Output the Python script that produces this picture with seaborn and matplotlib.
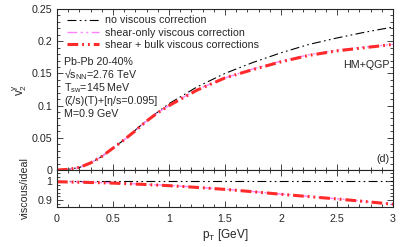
import matplotlib
matplotlib.use("Agg")
import matplotlib.pyplot as plt
from matplotlib.ticker import MultipleLocator
import numpy as np
import pandas as pd
import seaborn as sns

# values
pt = [0.0, 0.1, 0.2, 0.3, 0.4, 0.5, 0.6, 0.7, 0.8, 0.9, 1.0, 1.25, 1.5, 1.75, 2.0, 2.25, 2.5, 2.75, 3.0]
v2_ideal = [0.0, 0.001, 0.004, 0.011, 0.021, 0.034, 0.047, 0.062, 0.077, 0.090, 0.103,
            0.129, 0.150, 0.167, 0.182, 0.195, 0.205, 0.214, 0.222]
v2_shear = [0.0, 0.001, 0.004, 0.011, 0.021, 0.034, 0.047, 0.061, 0.076, 0.089, 0.100,
            0.125, 0.143, 0.157, 0.169, 0.179, 0.186, 0.191, 0.195]
v2_bulk = [0.0, 0.001, 0.004, 0.011, 0.021, 0.034, 0.047, 0.061, 0.076, 0.089, 0.100,
           0.124, 0.143, 0.156, 0.168, 0.178, 0.185, 0.190, 0.195]

pt_ratio = [0.0, 0.25, 0.5, 0.75, 1.0, 1.25, 1.5, 1.75, 2.0, 2.25, 2.5, 2.75, 3.0]
ratio_ideal = [1.0, 1.0, 1.0, 1.0, 1.0, 1.0, 1.0, 1.0, 1.0, 1.0, 1.0, 1.0, 1.0]
ratio_shear = [0.996, 0.993, 0.989, 0.983, 0.976, 0.967, 0.957, 0.945, 0.932, 0.920, 0.908, 0.895, 0.881]
ratio_bulk = [0.995, 0.992, 0.988, 0.982, 0.975, 0.966, 0.956, 0.944, 0.931, 0.919, 0.907, 0.894, 0.880]

labels = ["no viscous correction", "shear-only viscous correction", "shear + bulk viscous corrections"]

fs = 7.7
sns.set_style("ticks")
plt.rcParams["font.family"] = ["Liberation Sans", "DejaVu Sans"]
plt.rcParams["font.size"] = fs
plt.rcParams["mathtext.fontset"] = "custom"
plt.rcParams["mathtext.rm"] = "Liberation Sans"
plt.rcParams["mathtext.it"] = "Liberation Sans"

styles = [
    dict(color="black", linewidth=0.8, linestyle=(0, (8, 3, 1.5, 3, 1.5, 3))),
    dict(color="#ff80ff", linewidth=1.0, linestyle=(0, (7, 2.5, 1.5, 2.5, 1.5, 2.5))),
    dict(color="#ff2a2a", linewidth=2.2, linestyle=(0, (3.5, 1.3, 0.6, 1.3, 0.6, 1.3))),
]

fig = plt.figure(figsize=(4.11, 2.47), dpi=100)
ax1 = fig.add_axes([0.1387, 0.3117, 0.8175, 0.6519])
ax2 = fig.add_axes([0.1387, 0.162, 0.8175, 0.1497])

for v2, ratio, label, st in zip([v2_ideal, v2_shear, v2_bulk], [ratio_ideal, ratio_shear, ratio_bulk], labels, styles):
    sns.lineplot(x=pt, y=v2, ax=ax1, label=label, **st)
    sns.lineplot(x=pt_ratio, y=ratio, ax=ax2, legend=False, **st)

ax1.set_xlim(0, 3)
ax1.set_ylim(0, 0.25)
ax1.set_yticks([0, 0.05, 0.1, 0.15, 0.2, 0.25])
ax1.set_yticklabels(["0", "0.05", "0.1", "0.15", "0.2", "0.25"])
ax1.yaxis.set_minor_locator(MultipleLocator(0.01))
ax1.tick_params(labelbottom=False)
ax1.set_ylabel(r"v$_2^{\gamma}$", fontsize=8.5, labelpad=2)

ax2.set_xlim(0, 3)
ax2.set_ylim(0.866, 1.055)
ax2.set_yticks([0.9, 1.0])
ax2.set_yticklabels(["0.9", "1"])
ax2.yaxis.set_minor_locator(MultipleLocator(0.02))
ax2.set_xticks([0, 0.5, 1, 1.5, 2, 2.5, 3])
ax2.set_xticklabels(["0", "0.5", "1", "1.5", "2", "2.5", "3"])
ax2.set_xlabel(r"p$_{\rm T}$ [GeV]", fontsize=8.5, labelpad=2)
ax2.set_ylabel("viscous/ideal", fontsize=fs, labelpad=5)

for ax in (ax1, ax2):
    ax.xaxis.set_minor_locator(MultipleLocator(0.1))
    ax.tick_params(which="both", direction="in", top=True, right=True, width=0.6, labelsize=fs)
    ax.tick_params(which="major", length=4)
    ax.tick_params(which="minor", length=2)
    for s in ax.spines.values():
        s.set_linewidth(0.8)
ax2.tick_params(axis="x", pad=5)

ax1.legend(loc="upper left", bbox_to_anchor=(0.01, 1.0), frameon=False, handlelength=3.0,
           labelspacing=0.2, handletextpad=0.6, borderaxespad=0.2, fontsize=fs)

info = ["Pb-Pb 20-40%", "√s$_{\\rm NN}$=2.76 TeV", "T$_{\\rm sw}$=145 MeV",
        "(ζ/s)(T)+[η/s=0.095]", "M=0.9 GeV"]
for i, line in enumerate(info):
    ax1.text(0.022, 0.67 - i * 0.08, line, transform=ax1.transAxes, ha="left", va="center", fontsize=fs)
ax1.text(0.99, 0.655, "HM+QGP", transform=ax1.transAxes, ha="right", va="center", fontsize=fs)
ax1.text(0.99, 0.07, "(d)", transform=ax1.transAxes, ha="right", va="center", fontsize=fs)

fig.savefig("out.png", dpi=100)
